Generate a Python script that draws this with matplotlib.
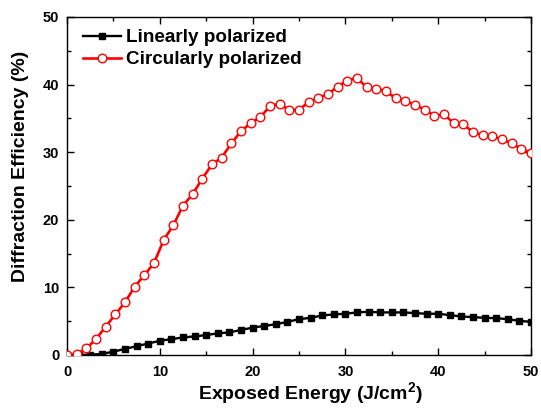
import numpy as np
import matplotlib
matplotlib.use("Agg")
import matplotlib.pyplot as plt
from matplotlib.ticker import MultipleLocator

plt.rcParams['font.family'] = ['Liberation Sans', 'DejaVu Sans']
plt.rcParams['font.weight'] = 'bold'
plt.rcParams['mathtext.fontset'] = 'custom'
plt.rcParams['mathtext.rm'] = 'Liberation Sans:bold'
plt.rcParams['mathtext.bf'] = 'Liberation Sans:bold'

# Linearly polarized (black squares)
lin_x = [i * 1.25 for i in range(41)]
lin_y = [0.0, 0.0, 0.05, 0.15, 0.5, 0.9, 1.3, 1.7, 2.1, 2.35, 2.6, 2.75, 2.95, 3.2,
         3.35, 3.7, 4.05, 4.3, 4.55, 4.9, 5.3, 5.5, 5.85, 6.0, 6.1, 6.3, 6.4, 6.3,
         6.3, 6.3, 6.2, 6.1, 6.1, 5.9, 5.7, 5.6, 5.5, 5.45, 5.3, 5.05, 4.9]

# Circularly polarized (red open circles)
circ_x = [i * 50 / 48 for i in range(49)]
circ_y = [0.0, 0.1, 1.0, 2.35, 4.2, 6.0, 7.8, 10.1, 11.8, 13.6, 17.0, 19.2, 22.1,
          23.8, 26.1, 28.2, 29.2, 31.3, 33.1, 34.3, 35.2, 36.8, 37.2, 36.2, 36.3,
          37.4, 38.0, 38.6, 39.7, 40.6, 41.0, 39.6, 39.4, 39.0, 38.0, 37.6, 37.0,
          36.3, 35.4, 35.6, 34.3, 34.1, 33.0, 32.5, 32.35, 31.9, 31.3, 30.5, 29.9]

fig = plt.figure(figsize=(5.41, 4.09), dpi=100)
ax = fig.add_axes([67 / 541, 54 / 409, 464 / 541, 338 / 409])

ax.plot(lin_x, lin_y, color='black', lw=1.7, marker='s', ms=5,
        mfc='black', mec='black', label='Linearly polarized', zorder=3)
ax.plot(circ_x, circ_y, color='red', lw=1.9, marker='o', ms=6.2,
        mfc='white', mec='red', mew=1.0, label='Circularly polarized', zorder=4)

ax.set_xlim(0, 50)
ax.set_ylim(0, 50)
ax.xaxis.set_major_locator(MultipleLocator(10))
ax.xaxis.set_minor_locator(MultipleLocator(5))
ax.yaxis.set_major_locator(MultipleLocator(10))
ax.yaxis.set_minor_locator(MultipleLocator(5))
ax.tick_params(which='both', direction='in', top=True, right=True, width=1.0)
ax.tick_params(which='major', length=5, labelsize=10.5)
ax.tick_params(axis='x', which='major', pad=7)
ax.tick_params(axis='y', which='major', pad=5.5)
ax.tick_params(which='minor', length=3)
for lab in ax.get_xticklabels() + ax.get_yticklabels():
    lab.set_fontweight('bold')
for sp in ax.spines.values():
    sp.set_linewidth(1.0)

ax.set_xlabel('Exposed Energy (J/cm$^\\mathbf{2}$)', fontsize=14, fontweight='bold')
ax.xaxis.label.set_va('bottom')
ax.xaxis.set_label_coords(0.524, -52.5 / 338)
ax.set_ylabel('Diffraction Efficiency (%)', fontsize=14, fontweight='bold')
ax.yaxis.label.set_va('baseline')
ax.yaxis.set_label_coords(-42 / 464, 0.557)

leg = ax.legend(loc='upper left', frameon=False, fontsize=13.6, handlelength=2.0,
                handletextpad=0.3, borderaxespad=0.0, labelspacing=0.25,
                bbox_to_anchor=(0.018, 0.987))
for t in leg.get_texts():
    t.set_fontweight('bold')

fig.savefig('out.png', dpi=100)
